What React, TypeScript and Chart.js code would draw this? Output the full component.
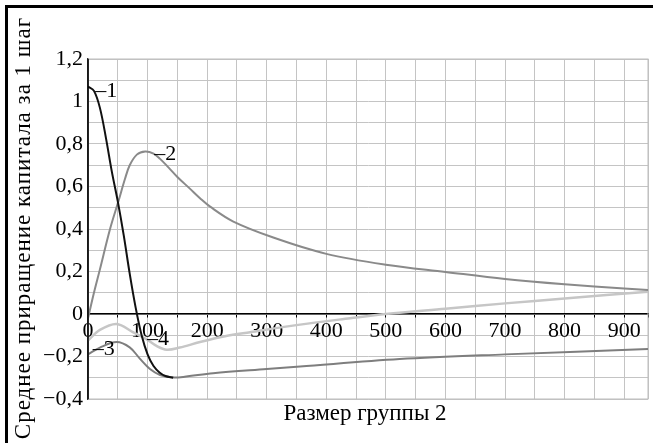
import React, { useEffect, useRef } from 'react';
import { Chart, registerables } from 'chart.js';

Chart.register(...registerables);

// Curve 1 (black)
const curve1X = [0, 10, 20, 30, 40, 50, 60, 70, 80, 90, 100, 110, 120, 130, 143];
const curve1Y = [1.07, 1.05, 0.97, 0.83, 0.67, 0.53, 0.37, 0.19, 0.03, -0.1, -0.19, -0.245, -0.275, -0.292, -0.3];

// Curve 2 (gray)
const curve2X = [0, 10, 20, 37, 51, 62, 70, 82, 96, 110, 121, 135, 150, 171, 188, 205, 244, 311, 400, 500, 600, 700, 800, 900, 940];
const curve2Y = [-0.02, 0.1, 0.21, 0.4, 0.53, 0.635, 0.7, 0.75, 0.765, 0.755, 0.73, 0.69, 0.645, 0.59, 0.545, 0.505, 0.435, 0.36, 0.283, 0.232, 0.198, 0.165, 0.14, 0.12, 0.113];

// Curve 3 (dark gray)
const curve3X = [0, 20, 48, 70, 87, 104, 121, 140, 160, 210, 300, 356, 523, 700, 940];
const curve3Y = [-0.19, -0.158, -0.132, -0.157, -0.21, -0.259, -0.287, -0.298, -0.296, -0.279, -0.259, -0.247, -0.212, -0.19, -0.165];

// Curve 4 (light gray)
const curve4X = [0, 20, 48, 76, 98, 115, 132, 154, 188, 230, 272, 356, 440, 500, 600, 700, 800, 940];
const curve4Y = [-0.125, -0.075, -0.047, -0.086, -0.118, -0.15, -0.168, -0.158, -0.132, -0.105, -0.086, -0.05, -0.02, 0.0, 0.025, 0.05, 0.073, 0.105];

// Axis ticks
const xGridValues = [0, 50, 100, 150, 200, 250, 300, 350, 400, 450, 500, 550, 600, 650, 700, 750, 800, 850, 900, 940];
const xLabelValues = [0, 100, 200, 300, 400, 500, 600, 700, 800, 900];
const yGridValues = [-0.4, -0.3, -0.2, -0.1, 0, 0.1, 0.2, 0.3, 0.4, 0.5, 0.6, 0.7, 0.8, 0.9, 1.0, 1.1, 1.2];
const yLabelValues = [-0.4, -0.2, 0, 0.2, 0.4, 0.6, 0.8, 1.0, 1.2];
const yLabelTexts = ['−0,4', '−0,2', '0', '0,2', '0,4', '0,6', '0,8', '1', '1,2'];

// Curve annotations
const curveLabelTexts = ['–1', '–2', '–3', '–4'];
const curveLabelX = [12, 111, 8, 99];
const curveLabelY = [1.05, 0.753, -0.165, -0.118];

const xTitle = 'Размер группы 2';
const yTitle = 'Среднее приращение капитала за 1 шаг';

const FONT = '"Liberation Serif", "Times New Roman", serif';

const toPoints = (xs: number[], ys: number[]) => xs.map((x, i) => ({ x, y: ys[i] }));

const decorPlugin = {
  id: 'decor',
  beforeDatasetsDraw(chart: any) {
    const { ctx, chartArea } = chart;
    ctx.save();
    ctx.strokeStyle = '#bdbdbd';
    ctx.lineWidth = 1;
    ctx.strokeRect(chartArea.left, chartArea.top, chartArea.right - chartArea.left, chartArea.bottom - chartArea.top);
    ctx.restore();
  },
  afterDraw(chart: any) {
    const { ctx, scales } = chart;
    const xs = scales.x;
    const ys = scales.y;
    ctx.save();
    // frame (top and left)
    ctx.fillStyle = '#000';
    ctx.fillRect(5, 5, 648, 3);
    ctx.fillRect(5, 5, 3, 438);
    // left axis line over grid
    ctx.strokeStyle = '#000';
    ctx.lineWidth = 1.5;
    ctx.beginPath();
    ctx.moveTo(chart.chartArea.left, chart.chartArea.top);
    ctx.lineTo(chart.chartArea.left, chart.chartArea.bottom);
    ctx.stroke();
    // curve labels
    ctx.fillStyle = '#000';
    ctx.font = '22px ' + FONT;
    ctx.textAlign = 'left';
    ctx.textBaseline = 'middle';
    curveLabelTexts.forEach((t, i) => {
      ctx.fillText(t, xs.getPixelForValue(curveLabelX[i]), ys.getPixelForValue(curveLabelY[i]));
    });
    // x title
    ctx.font = '23px ' + FONT;
    ctx.textAlign = 'center';
    ctx.textBaseline = 'alphabetic';
    ctx.fillText(xTitle, 365, 420);
    // y title
    ctx.translate(30, 228);
    ctx.rotate(-Math.PI / 2);
    (ctx as any).letterSpacing = '1px';
    ctx.textAlign = 'center';
    ctx.textBaseline = 'alphabetic';
    ctx.fillText(yTitle, 0, 0);
    ctx.restore();
  },
};

export default function App() {
  const canvasRef = useRef<HTMLCanvasElement | null>(null);

  useEffect(() => {
    if (!canvasRef.current) return;
    const lineBase = { pointRadius: 0, tension: 0.35, fill: false };
    const chart = new Chart(canvasRef.current, {
      type: 'line',
      data: {
        datasets: [
          { ...lineBase, label: '1', data: toPoints(curve1X, curve1Y), borderColor: '#111111', borderWidth: 2 },
          { ...lineBase, label: '2', data: toPoints(curve2X, curve2Y), borderColor: '#8a8a8a', borderWidth: 2 },
          { ...lineBase, label: '3', data: toPoints(curve3X, curve3Y), borderColor: '#7e7e7e', borderWidth: 2 },
          { ...lineBase, label: '4', data: toPoints(curve4X, curve4Y), borderColor: '#c6c6c6', borderWidth: 2.5 },
        ],
      },
      options: {
        animation: false,
        responsive: false,
        maintainAspectRatio: false,
        layout: { padding: { top: 59, right: 5, bottom: 44, left: 0 } },
        plugins: { legend: { display: false }, tooltip: { enabled: false }, title: { display: false } },
        scales: {
          x: {
            type: 'linear',
            position: { y: 0 } as any,
            min: 0,
            max: 940,
            afterBuildTicks: (scale: any) => {
              scale.ticks = xGridValues.map((v) => ({ value: v }));
            },
            ticks: {
              autoSkip: false,
              maxRotation: 0,
              minRotation: 0,
              padding: 1,
              color: '#000',
              font: { family: FONT, size: 22 },
              callback: (v: any) => (xLabelValues.includes(Number(v)) ? String(v) : ''),
            },
            grid: { color: '#c4c4c4', lineWidth: 1, drawTicks: true, tickLength: 3, tickColor: '#000' },
            border: { display: true, color: '#000', width: 1.5 },
          },
          y: {
            type: 'linear',
            position: 'left',
            min: -0.4,
            max: 1.2,
            afterBuildTicks: (scale: any) => {
              scale.ticks = yGridValues.map((v) => ({ value: v }));
            },
            afterFit: (scale: any) => {
              scale.width = 88;
            },
            ticks: {
              autoSkip: false,
              padding: 5,
              color: '#000',
              font: { family: FONT, size: 22 },
              callback: (v: any) => {
                const idx = yLabelValues.findIndex((lv) => Math.abs(lv - Number(v)) < 1e-6);
                return idx >= 0 ? yLabelTexts[idx] : '';
              },
            },
            grid: { color: '#c4c4c4', lineWidth: 1, drawTicks: false },
            border: { display: true, color: '#000', width: 1.5 },
          },
        },
      },
      plugins: [decorPlugin],
    } as any);
    return () => chart.destroy();
  }, []);

  return (
    <div style={{ position: 'fixed', left: 0, top: 0, width: 653, height: 443, background: '#fff' }}>
      <canvas ref={canvasRef} width={653} height={443} style={{ display: 'block' }} />
    </div>
  );
}
